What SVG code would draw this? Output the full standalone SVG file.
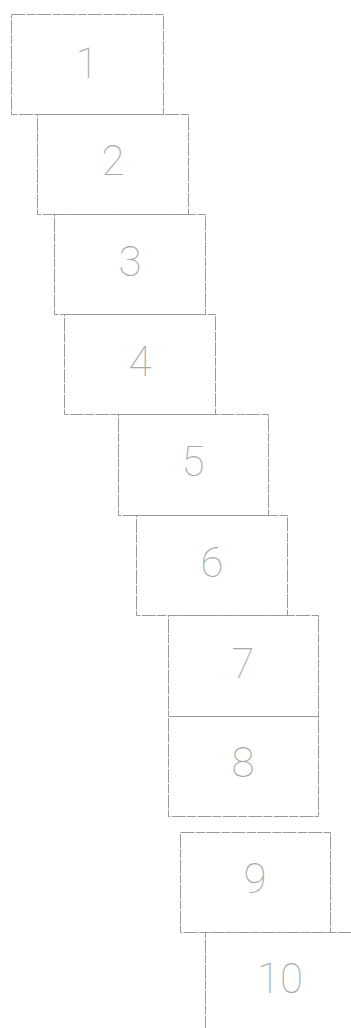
<svg xmlns="http://www.w3.org/2000/svg" width="351" height="1028" viewBox="0 0 351 1028">
<style>
.box{fill:none;stroke:#9a9a9a;stroke-width:1;stroke-dasharray:14 1.5 9 1}
.lbl{font-family:Roboto,"Liberation Sans",sans-serif;font-weight:100;font-size:42px;fill:#a8a8a8;text-anchor:middle}
</style>
<rect width="351" height="1028" fill="#ffffff"/>
<g id="node1"><rect class="box" x="11.5" y="14.5" width="152" height="100"/><text class="lbl" x="87" y="78">1</text></g>
<g id="node2"><rect class="box" x="37.5" y="114.5" width="151" height="100"/><text class="lbl" x="113" y="175">2</text></g>
<g id="node3"><rect class="box" x="54.5" y="214.5" width="151" height="100"/><text class="lbl" x="130" y="276">3</text></g>
<g id="node4"><rect class="box" x="64.5" y="314.5" width="151" height="100"/><text class="lbl" x="140" y="376">4</text></g>
<g id="node5"><rect class="box" x="118.5" y="414.5" width="150" height="101"/><text class="lbl" x="193" y="476">5</text></g>
<g id="node6"><rect class="box" x="136.5" y="515.5" width="151" height="100"/><text class="lbl" x="212" y="577">6</text></g>
<g id="node7"><rect class="box" x="168.5" y="615.5" width="150" height="101"/><text class="lbl" x="243" y="678">7</text></g>
<g id="node8"><rect class="box" x="168.5" y="716.5" width="150" height="100"/><text class="lbl" x="243" y="777">8</text></g>
<g id="node9"><rect class="box" x="180.5" y="832.5" width="150" height="100"/><text class="lbl" x="255" y="893">9</text></g>
<g id="node10"><path class="box" d="M205.5 1030 V932.5 H352"/><text class="lbl" x="280" y="993">10</text></g>
<g id="connectors"></g>
</svg>
